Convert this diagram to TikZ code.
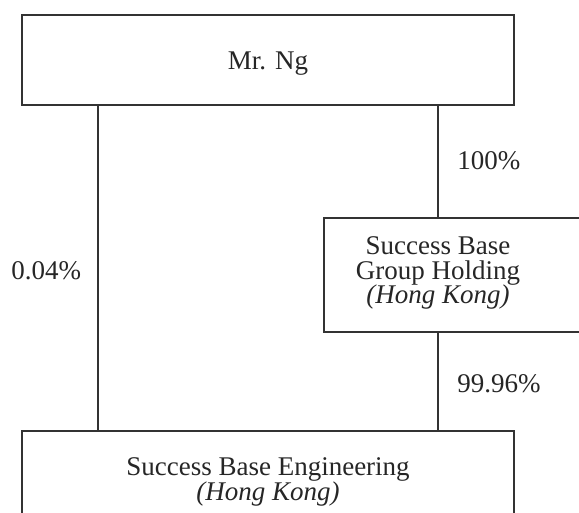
\documentclass[tikz,border=0pt]{standalone}
\usepackage{fontspec}
\setmainfont{Liberation Serif}
\begin{document}
\begin{tikzpicture}[x=0.5pt,y=-0.5pt,
  box/.style={draw=black!80,line width=1pt,inner sep=0pt,rectangle},
  txt/.style={inner sep=0pt,align=center,font=\fontsize{13.5}{12.3}\selectfont,text=black!85},
  pct/.style={inner sep=0pt,anchor=west,font=\fontsize{13.5}{12.3}\selectfont,text=black!85},
  link/.style={draw=black!80,line width=1pt}]
\useasboundingbox (0,0) rectangle (579,513);
\clip (0,0) rectangle (579,513);
\node[box,minimum width=246pt,minimum height=45pt] (top) at (268,60) {};
\node[txt] (topt) at (268,64) {Mr. Ng};
\node[box,minimum width=168pt,minimum height=57pt] (mid) at (492,275) {};
\node[txt] (midt) at (438,273) {Success Base\\Group Holding\\\textit{(Hong Kong)}};
\node[box,minimum width=246pt,minimum height=64.5pt] (bot) at (268,495.5) {};
\node[txt] (bott) at (268,482) {Success Base Engineering\\\textit{(Hong Kong)}};
\coordinate (lx) at (97.5,0);
\coordinate (rx) at (438,0);
\draw[link] (top.south -| lx) -- (bot.north -| lx);
\draw[link] (top.south -| rx) -- (mid.north -| rx);
\draw[link] (mid.south -| rx) -- (bot.north -| rx);
\node[pct] (p100) at (457,161) {100\%};
\node[pct] (p004) at (11,271) {0.04\%};
\node[pct] (p9996) at (457,384) {99.96\%};
\end{tikzpicture}
\end{document}
